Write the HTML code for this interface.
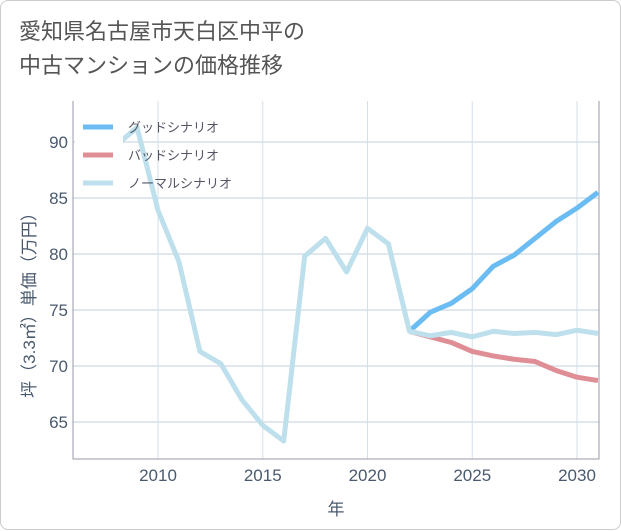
<!DOCTYPE html>
<html><head><meta charset="utf-8"><style>
body{margin:0;background:#fff;font-family:"Liberation Sans","Noto Sans CJK JP",sans-serif}
#wrap{position:absolute;left:0;top:0;width:619px;height:528px;border:1px solid #ccc;border-radius:8px;background:#fff}
#title{position:absolute;left:18px;top:14px;font-size:22px;line-height:34px;color:#555;font-weight:normal}
</style></head><body>
<div id="wrap">
<div id="title">愛知県名古屋市天白区中平の<br>中古マンションの価格推移</div>
<svg id="chart" width="621" height="530" style="position:absolute;left:0;top:0"></svg>
</div>
<script>
const years=[2008,2009,2010,2011,2012,2013,2014,2015,2016,2017,2018,2019,2020,2021,2022,2023,2024,2025,2026,2027,2028,2029,2030,2031];
const normal=[89.7,91.3,83.9,79.3,71.3,70.2,67.0,64.7,63.3,79.8,81.4,78.4,82.3,80.9,73.1,72.7,73.0,72.6,73.1,72.9,73.0,72.8,73.2,72.9];
const goodYears=[2022,2023,2024,2025,2026,2027,2028,2029,2030,2031];
const good=[73.1,74.8,75.6,76.9,78.9,79.9,81.4,82.9,84.1,85.5];
const bad=[73.1,72.6,72.1,71.3,70.9,70.6,70.4,69.6,69.0,68.7];
const xTicks=[2010,2015,2020,2025,2030];
const yTicks=[65,70,75,80,85,90];
const L=72,R=598,T=100,B=458;
const x=v=>157+(v-2010)*(576-157)/20;
const y=v=>141+(90-v)*(421-141)/25;
const svg=document.getElementById('chart');const NS='http://www.w3.org/2000/svg';
function el(t,a,p){const e=document.createElementNS(NS,t);for(const k in a)e.setAttribute(k,a[k]);(p||svg).appendChild(e);return e;}
for(const t of xTicks){const l=el('line',{x1:x(t),x2:x(t),y1:T,y2:B,stroke:'#d5dfe8','stroke-width':1});


const tx=el('text',{x:x(t),y:B+22,'text-anchor':'middle','font-size':17,fill:'#4a5a6e'});tx.textContent=t;

}
for(const t of yTicks){const l=el('line',{x1:L,x2:R,y1:y(t),y2:y(t),stroke:'#d5dfe8','stroke-width':1.5});


const tx=el('text',{x:L-5,y:y(t)+6,'text-anchor':'end','font-size':17,fill:'#4a5a6e'});tx.textContent=t;

}
const ax=el('path',{d:`M${L},${T}V${B}H${R}V${T}`,fill:'none',stroke:'#99a','stroke-width':1});


const lg=el('rect',{x:74,y:108,width:48,height:86,fill:'#fff'});


function line(xs,vs,c,name){const p=el('polyline',{points:xs.map((v,i)=>x(v)+','+y(vs[i])).join(' '),fill:'none',stroke:c,'stroke-width':5,'stroke-linejoin':'round'});

}
line(goodYears,bad,'#e08e96','bad-scenario-line');
line(goodYears,good,'#6bbcf2','good-scenario-line');
line(years,normal,'#bde0ec','normal-scenario-line');
const lg2=el('rect',{x:74,y:108,width:48,height:86,fill:'#fff'});


const items=[['グッドシナリオ','#6bbcf2'],['バッドシナリオ','#e08e96'],['ノーマルシナリオ','#bde0ec']];
items.forEach((it,i)=>{const yy=126+i*28;
const s=el('line',{x1:82,x2:112,y1:yy,y2:yy,stroke:it[1],'stroke-width':5});


const t=el('text',{x:127,y:yy+5,'font-size':13,fill:'#556'});t.textContent=it[0];

});
const xt=el('text',{x:335,y:514,'text-anchor':'middle','font-size':17,fill:'#4a5a6e'});xt.textContent='年';


const yt=el('text',{x:0,y:0,'text-anchor':'middle','font-size':17,fill:'#4a5a6e',transform:'translate(34,300) rotate(-90)'});yt.textContent='坪（3.3㎡）単価（万円）';


</script>
</body></html>
